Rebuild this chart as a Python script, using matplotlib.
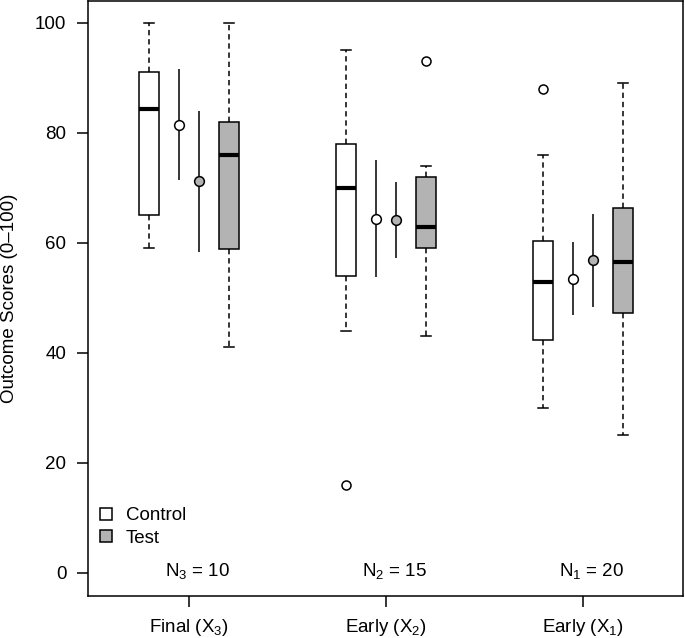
import matplotlib
matplotlib.use("Agg")
import matplotlib.pyplot as plt
from matplotlib.patches import Patch

plt.rcParams['font.family'] = ['Liberation Sans', 'DejaVu Sans']
plt.rcParams['mathtext.fontset'] = 'custom'
plt.rcParams['mathtext.rm'] = 'Liberation Sans'
plt.rcParams['mathtext.it'] = 'Liberation Sans:italic'
plt.rcParams['mathtext.default'] = 'regular'

# tick labels / groups
groups = ["Final (X$_3$)", "Early (X$_2$)", "Early (X$_1$)"]
n_labels = ["N$_3$ = 10", "N$_2$ = 15", "N$_1$ = 20"]

# control boxes
ctrl_med = [84.4, 69.9, 52.9]
ctrl_q1 = [65.0, 53.9, 42.4]
ctrl_q3 = [91.0, 78.0, 60.4]
ctrl_lo = [59.0, 44.0, 30.0]
ctrl_hi = [100.0, 95.0, 76.0]
ctrl_out = [[], [16.0], [88.0]]

# test boxes
test_med = [75.9, 62.9, 56.5]
test_q1 = [58.9, 59.0, 47.3]
test_q3 = [82.0, 71.9, 66.4]
test_lo = [41.0, 43.0, 25.0]
test_hi = [100.0, 74.0, 89.0]
test_out = [[], [93.0], []]

# means with intervals
ctrl_mean = [81.4, 64.3, 53.5]
ctrl_ci_lo = [71.4, 53.7, 46.9]
ctrl_ci_hi = [91.5, 75.0, 60.2]
test_mean = [71.2, 64.1, 56.9]
test_ci_lo = [58.4, 57.3, 48.4]
test_ci_hi = [83.9, 71.0, 65.3]

GRAY = "#b3b3b3"
FS = 13.5
pos = [1, 2, 3]
box_off = 0.203
mean_off = 0.05
box_w = 0.104

fig = plt.figure(figsize=(6.85, 6.38), dpi=100)
ax = fig.add_axes([0.1285, 0.066, 0.8685, 0.932])


def stats(med, q1, q3, lo, hi, out):
    return [dict(med=m, q1=a, q3=b, whislo=l, whishi=h, fliers=f)
            for m, a, b, l, h, f in zip(med, q1, q3, lo, hi, out)]


def draw(st, positions, face):
    ax.bxp(st, positions=positions, widths=box_w, capwidths=box_w / 2,
           patch_artist=True, showfliers=True, manage_ticks=False,
           boxprops=dict(facecolor=face, edgecolor="black", linewidth=1.1),
           medianprops=dict(color="black", linewidth=3.0, solid_capstyle="butt"),
           whiskerprops=dict(color="black", linewidth=1.1, linestyle=(0, (3.5, 2.5))),
           capprops=dict(color="black", linewidth=1.1),
           flierprops=dict(marker="o", markerfacecolor="white", markeredgecolor="black",
                           markersize=6.5, markeredgewidth=1.1))


draw(stats(ctrl_med, ctrl_q1, ctrl_q3, ctrl_lo, ctrl_hi, ctrl_out),
     [p - box_off for p in pos], "white")
draw(stats(test_med, test_q1, test_q3, test_lo, test_hi, test_out),
     [p + box_off for p in pos], GRAY)

for i, p in enumerate(pos):
    ax.vlines(p - mean_off, ctrl_ci_lo[i], ctrl_ci_hi[i], color="black", lw=1.1)
    ax.plot(p - mean_off, ctrl_mean[i], "o", ms=7, mfc="white", mec="black", mew=1.1)
    ax.vlines(p + mean_off, test_ci_lo[i], test_ci_hi[i], color="black", lw=1.1)
    ax.plot(p + mean_off, test_mean[i], "o", ms=7, mfc=GRAY, mec="black", mew=1.1)
    ax.text(p + 0.045, 0.3, n_labels[i], ha="center", va="center", fontsize=FS)

ax.set_xlim(0.487, 3.508)
ax.set_ylim(-4.2, 103.9)
ax.set_yticks([0, 20, 40, 60, 80, 100])
ax.set_xticks(pos)
ax.set_xticklabels(groups)
ax.tick_params(axis="both", direction="out", length=8, width=1.1, labelsize=FS, pad=7.5)
ax.set_ylabel("Outcome Scores (0\u2013100)", fontsize=FS, labelpad=12)
for s in ax.spines.values():
    s.set_linewidth(1.1)

handles = [Patch(facecolor="white", edgecolor="black", lw=1.1, label="Control"),
           Patch(facecolor=GRAY, edgecolor="black", lw=1.1, label="Test")]
ax.legend(handles=handles, loc="lower left", bbox_to_anchor=(0.02, 0.083),
          frameon=False, fontsize=FS, handlelength=0.62, handleheight=0.62,
          handletextpad=0.75, labelspacing=0.28, borderpad=0, borderaxespad=0)

fig.savefig("out.png", dpi=100)
